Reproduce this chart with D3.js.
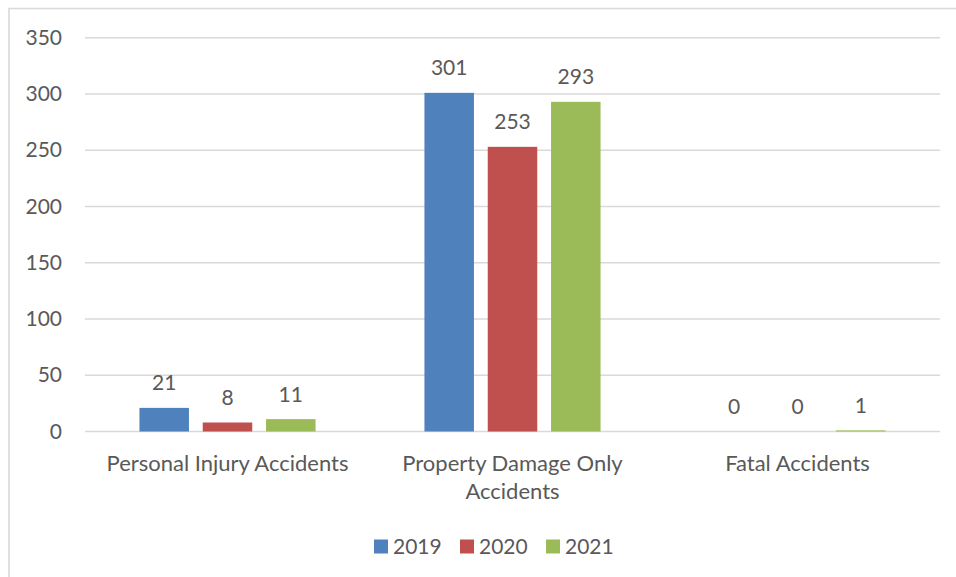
<!DOCTYPE html>
<html>
<head>
<meta charset="utf-8">
<script src="https://cdn.jsdelivr.net/npm/d3@7"></script>
<style>
  body { margin: 0; background: #fff; }
  svg text { font-family: Lato, "Open Sans", sans-serif; fill: #595959; }
</style>
</head>
<body>
<div id="chart"></div>
<script>
// chart data
var categories = ["Personal Injury Accidents", "Property Damage Only Accidents", "Fatal Accidents"];
var years = ["2019", "2020", "2021"];
var values2019 = [21, 301, 0];
var values2020 = [8, 253, 0];
var values2021 = [11, 293, 1];
var yTicks = [0, 50, 100, 150, 200, 250, 300, 350];
var colors = ["#4F81BD", "#C0504D", "#9BBB59"];

var series = [values2019, values2020, values2021];

// flat list of bars
var bars = [];
categories.forEach(function(c, i){
  years.forEach(function(yr, j){
    bars.push({cat: c, year: yr, value: series[j][i], color: colors[j]});
  });
});

var w = 956, h = 577;
var m = {top: 37.7, right: 16, bottom: 145.5, left: 85};

var svg = d3.select("#chart")
            .append("svg")
            .attr("width", w)
            .attr("height", h);

// outer frame
svg.append("rect")
   .attr("x", 9)
   .attr("y", 8.5)
   .attr("width", w + 20)
   .attr("height", h + 20)
   .attr("fill", "none")
   .attr("stroke", "#d9d9d9")
   .attr("stroke-width", 1.6);

// scales
var xScale = d3.scaleBand()
               .domain(categories)
               .range([m.left, w - m.right]);

var xInner = d3.scaleBand()
               .domain(years)
               .range([0, xScale.bandwidth()])
               .paddingInner(0.218)
               .paddingOuter(0.86);

var yScale = d3.scaleLinear()
               .domain([0, 350])
               .range([h - m.bottom, m.top]);

// gridlines
svg.append("g")
   .attr("class", "grid")
   .selectAll("line")
   .data(yTicks)
   .enter()
   .append("line")
   .attr("x1", m.left)
   .attr("x2", w - m.right)
   .attr("y1", (d) => yScale(d))
   .attr("y2", (d) => yScale(d))
   .attr("stroke", "#d9d9d9")
   .attr("stroke-width", 1.6);

// y axis labels
var yAxis = d3.axisLeft(yScale)
              .tickValues(yTicks)
              .tickSize(0)
              .tickPadding(23);

svg.append("g")
   .attr("id", "y-axis")
   .attr("transform", "translate(" + m.left + ",0)")
   .call(yAxis)
   .call((g) => g.select(".domain").remove())
   .selectAll("text")
   .style("font-size", "21px")
   .attr("fill", "#595959");

// bars
svg.append("g")
   .attr("id", "bars")
   .selectAll("rect")
   .data(bars)
   .enter()
   .append("rect")
   .attr("x", (d) => xScale(d.cat) + xInner(d.year))
   .attr("y", (d) => yScale(d.value))
   .attr("width", xInner.bandwidth())
   .attr("height", (d) => yScale(0) - yScale(d.value))
   .attr("fill", (d) => d.color);

// value labels
svg.append("g")
   .attr("id", "labels")
   .selectAll("text")
   .data(bars)
   .enter()
   .append("text")
   .attr("x", (d) => xScale(d.cat) + xInner(d.year) + xInner.bandwidth() / 2)
   .attr("y", (d) => yScale(d.value) - 17.5)
   .attr("text-anchor", "middle")
   .style("font-size", "21px")
   .text((d) => d.value);

// category labels, wrapped like the original
var catG = svg.append("g").attr("id", "x-axis");
categories.forEach(function(c){
  var cx = xScale(c) + xScale.bandwidth() / 2;
  var t = catG.append("text")
              .attr("x", cx)
              .attr("y", yScale(0) + 39.5)
              .attr("text-anchor", "middle")
              .style("font-size", "22px");
  var words = c.split(" ");
  var line = [];
  var ts = t.append("tspan").attr("x", cx);
  words.forEach(function(word){
    line.push(word);
    ts.text(line.join(" "));
    if (ts.node().getComputedTextLength() > 262 && line.length > 1) {
      line.pop();
      ts.text(line.join(" "));
      line = [word];
      ts = t.append("tspan")
            .attr("x", cx)
            .attr("dy", 27.5)
            .text(word);
    }
  });
});

// legend
var legend = svg.append("g")
                .attr("id", "legend")
                .attr("transform", "translate(374,539.5)");

var items = legend.selectAll("g")
                  .data(years)
                  .enter()
                  .append("g")
                  .attr("transform", (d, i) => "translate(" + (i * 86) + ",0)");

items.append("rect")
     .attr("width", 14)
     .attr("height", 14)
     .attr("fill", (d, i) => colors[i]);

items.append("text")
     .attr("x", 19)
     .attr("y", 14)
     .style("font-size", "21px")
     .text((d) => d);
</script>
</body>
</html>
